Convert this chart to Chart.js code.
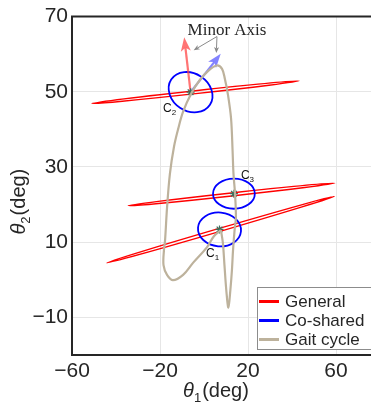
<!DOCTYPE html>
<html>
<head>
<meta charset="utf-8">
<script src="https://cdn.jsdelivr.net/npm/chart.js@4.4.0/dist/chart.umd.min.js"></script>
<style>
    html, body { margin: 0; padding: 0; background: #fff; overflow: hidden; }
    #wrap { width: 400px; height: 409px; }
</style>
</head>
<body>
<div id="wrap"><canvas id="grafico" width="400" height="409"></canvas></div>
<script>
// ticks de los ejes
const ticksTheta1 = [-60, -20, 20, 60];
const ticksTheta2 = [-10, 10, 30, 50, 70];

// ciclo de marcha (Gait cycle)
const gaitTheta1 = [7.7, 4.5, 1.4, -5.0, -9.5, -14.1, -16.8, -18.4, -18.2, -17.7, -16.8, -15.5, -13.6, -11.8, -9.5, -5.7, -1.8, 1.8, 5.8, 8.2, 9.5, 10.9, 12.3, 13.0, 13.4, 14.1, 14.5, 13.9, 13.2, 12.7, 12.0, 11.1, 10.2, 9.3, 8.6, 7.7];
const gaitTheta2 = [13.2, 11.6, 8.7, 4.5, 1.3, -0.1, 1.3, 3.9, 7.9, 10.5, 19.2, 28.2, 35.5, 40.0, 44.7, 49.7, 53.2, 55.5, 57.0, 56.1, 53.4, 49.2, 42.9, 34.2, 28.2, 22.9, 16.6, 13.2, 7.9, 2.6, -2.6, -7.4, -3.2, 3.9, 9.7, 13.2];

// centros C1, C2, C3
const centrosNombre = ['1', '2', '3'];
const centrosTheta1 = [7.05, -6.1, 13.6];
const centrosTheta2 = [13.4, 49.9, 22.9];

// General: elipses muy finas, extremos del eje mayor
const generalIniTheta1 = [-44.2, -51.0, -34.5];
const generalIniTheta2 = [4.5, 46.9, 19.7];
const generalFinTheta1 = [59.2, 43.3, 59.5];
const generalFinTheta2 = [22.2, 52.9, 25.7];
const generalSemiMenor = [0.4, 0.4, 0.4];

// Co-shared: elipses alrededor de cada centro
const cosharedSemiTheta1 = [9.8, 10.5, 9.5];
const cosharedSemiTheta2 = [4.5, 5.0, 4.0];
const cosharedGiro = [5, 33, 0];

// ejes menores en C2 (punta de cada flecha)
const ejeMenorRojo = [-9.0, 64.5];
const ejeMenorAzul = [7.6, 60.1];

// anotacion "Minor Axis"
const notaTexto = 'Minor Axis';
const notaPos = [10.45, 65.2];
const notaOrigen = [5.9, 64.7];
const notaDestinos = [[-4.7, 61.05], [5.6, 60.3]];

const leyendaNombres = ['General', 'Co-shared', 'Gait cycle'];
const leyendaColores = ['#ff0000', '#0000ff', '#bdb29c'];

const colorTexto = '#262626';
const fuente = '"Liberation Sans", Arial, sans-serif';

function formatoTick(v) {
    return v < 0 ? '\u2212' + Math.abs(v) : String(v);
}

function flecha(ctx, x0, y0, x1, y1, color, ancho, largo, mitad) {
    const ang = Math.atan2(y1 - y0, x1 - x0);
    const ux = Math.cos(ang), uy = Math.sin(ang);
    const nx = x1 - ux * largo * 0.75, ny = y1 - uy * largo * 0.75;
    ctx.strokeStyle = color;
    ctx.fillStyle = color;
    ctx.lineWidth = ancho;
    ctx.beginPath();
    ctx.moveTo(x0, y0);
    ctx.lineTo(nx, ny);
    ctx.stroke();
    const bx = x1 - ux * largo, by = y1 - uy * largo;
    ctx.beginPath();
    ctx.moveTo(x1, y1);
    ctx.lineTo(bx - uy * mitad, by + ux * mitad);
    ctx.lineTo(nx, ny);
    ctx.lineTo(bx + uy * mitad, by - ux * mitad);
    ctx.closePath();
    ctx.fill();
}

function textoTheta(ctx, cx, base, sub) {
    const fTheta = 'italic 20px ' + fuente;
    const fSub = '13px ' + fuente;
    const fResto = '20px ' + fuente;
    ctx.font = fTheta; const w1 = ctx.measureText('\u03b8').width;
    ctx.font = fSub; const w2 = ctx.measureText(sub).width;
    ctx.font = fResto; const w3 = ctx.measureText('(deg)').width;
    let x = cx - (w1 + w2 + w3 + 1) / 2;
    ctx.fillStyle = colorTexto;
    ctx.textAlign = 'left';
    ctx.textBaseline = 'alphabetic';
    ctx.font = fTheta; ctx.fillText('\u03b8', x, base); x += w1;
    ctx.font = fSub; ctx.fillText(sub, x, base + 5); x += w2 + 1;
    ctx.font = fResto; ctx.fillText('(deg)', x, base);
}

const extras = {
    id: 'extras',
    beforeDatasetDraw(chart, args) {
        if (args.index !== 1) return;
        const ctx = chart.ctx;
        const sx = chart.scales.x, sy = chart.scales.y;
        ctx.save();
        // General
        for (let i = 0; i < generalIniTheta1.length; i++) {
            const x0 = sx.getPixelForValue(generalIniTheta1[i]);
            const y0 = sy.getPixelForValue(generalIniTheta2[i]);
            const x1 = sx.getPixelForValue(generalFinTheta1[i]);
            const y1 = sy.getPixelForValue(generalFinTheta2[i]);
            const rMenor = Math.abs(sy.getPixelForValue(0) - sy.getPixelForValue(generalSemiMenor[i]));
            ctx.beginPath();
            ctx.ellipse((x0 + x1) / 2, (y0 + y1) / 2, Math.hypot(x1 - x0, y1 - y0) / 2, rMenor, Math.atan2(y1 - y0, x1 - x0), 0, Math.PI * 2);
            ctx.strokeStyle = '#ff0000';
            ctx.lineWidth = 1.4;
            ctx.stroke();
        }
        // Co-shared
        for (let i = 0; i < centrosTheta1.length; i++) {
            const cx = sx.getPixelForValue(centrosTheta1[i]);
            const cy = sy.getPixelForValue(centrosTheta2[i]);
            const rx = Math.abs(sx.getPixelForValue(centrosTheta1[i] + cosharedSemiTheta1[i]) - cx);
            const ry = Math.abs(sy.getPixelForValue(centrosTheta2[i] + cosharedSemiTheta2[i]) - cy);
            ctx.beginPath();
            ctx.ellipse(cx, cy, rx, ry, cosharedGiro[i] * Math.PI / 180, 0, Math.PI * 2);
            ctx.strokeStyle = '#0000ff';
            ctx.lineWidth = 1.8;
            ctx.stroke();
        }
        // ejes menores en C2
        const c2x = sx.getPixelForValue(centrosTheta1[1]);
        const c2y = sy.getPixelForValue(centrosTheta2[1]);
        flecha(ctx, c2x, c2y, sx.getPixelForValue(ejeMenorRojo[0]), sy.getPixelForValue(ejeMenorRojo[1]), 'rgba(255,70,70,0.75)', 2.2, 14, 5);
        flecha(ctx, c2x, c2y, sx.getPixelForValue(ejeMenorAzul[0]), sy.getPixelForValue(ejeMenorAzul[1]), 'rgba(90,90,255,0.75)', 2.2, 14, 5);
        // anotacion
        const ox = sx.getPixelForValue(notaOrigen[0]), oy = sy.getPixelForValue(notaOrigen[1]);
        notaDestinos.forEach(d => {
            flecha(ctx, ox, oy, sx.getPixelForValue(d[0]), sy.getPixelForValue(d[1]), '#8a8a8a', 1, 6, 2.5);
        });
        ctx.font = '17px "Liberation Serif", "Times New Roman", serif';
        ctx.fillStyle = colorTexto;
        ctx.textAlign = 'center';
        ctx.textBaseline = 'alphabetic';
        ctx.fillText(notaTexto, sx.getPixelForValue(notaPos[0]), sy.getPixelForValue(notaPos[1]));
        ctx.restore();
    },
    afterDraw(chart) {
        const ctx = chart.ctx;
        const a = chart.chartArea;
        const sx = chart.scales.x, sy = chart.scales.y;
        ctx.save();
        // borde superior
        ctx.strokeStyle = colorTexto;
        ctx.lineWidth = 2;
        ctx.beginPath();
        ctx.moveTo(a.left - 1, a.top);
        ctx.lineTo(a.right, a.top);
        ctx.stroke();

        // etiquetas C1, C2, C3
        const desp = [[-13.5, 27.7], [-27.5, 19.5], [7, -15]];
        for (let i = 0; i < centrosTheta1.length; i++) {
            const x = sx.getPixelForValue(centrosTheta1[i]) + desp[i][0];
            const y = sy.getPixelForValue(centrosTheta2[i]) + desp[i][1];
            ctx.fillStyle = '#111';
            ctx.textAlign = 'left';
            ctx.textBaseline = 'alphabetic';
            ctx.font = '12px ' + fuente;
            ctx.fillText('C', x, y);
            const w = ctx.measureText('C').width;
            ctx.font = '8px ' + fuente;
            ctx.fillText(centrosNombre[i], x + w, y + 3);
        }

        // titulos de los ejes
        textoTheta(ctx, a.left + 144, 397, '1');
        ctx.save();
        ctx.translate(25, a.top + 185);
        ctx.rotate(-Math.PI / 2);
        textoTheta(ctx, 0, 0, '2');
        ctx.restore();

        // leyenda
        const lx = a.left + 185, ly = a.bottom - 68;
        ctx.fillStyle = '#fff';
        ctx.fillRect(lx, ly, 200, 62);
        ctx.strokeStyle = '#8c8c8c';
        ctx.lineWidth = 1;
        ctx.strokeRect(lx + 0.5, ly + 0.5, 200, 62);
        leyendaNombres.forEach((nombre, i) => {
            const y = ly + 14.5 + i * 19;
            ctx.strokeStyle = leyendaColores[i];
            ctx.lineWidth = 3;
            ctx.beginPath();
            ctx.moveTo(lx + 2, y);
            ctx.lineTo(lx + 22, y);
            ctx.stroke();
            ctx.fillStyle = colorTexto;
            ctx.font = '17px ' + fuente;
            ctx.textAlign = 'left';
            ctx.textBaseline = 'middle';
            ctx.fillText(nombre, lx + 28, y + 1);
        });
        ctx.restore();
    }
};

const ejeComun = {
    type: 'linear',
    grid: { color: '#e6e6e6', lineWidth: 1, drawTicks: false },
    border: { color: colorTexto, width: 2 },
    ticks: {
        color: colorTexto,
        font: { family: fuente, size: 21 },
        callback: v => formatoTick(v)
    }
};

new Chart(document.getElementById('grafico'), {
    type: 'scatter',
    data: {
        datasets: [
            {
                label: 'Gait cycle',
                data: gaitTheta1.map((x, i) => ({ x: x, y: gaitTheta2[i] })),
                showLine: true,
                borderColor: '#bdb29c',
                borderWidth: 2.2,
                pointRadius: 0,
                tension: 0.35,
                fill: false
            },
            {
                label: 'Centros',
                data: centrosTheta1.map((x, i) => ({ x: x, y: centrosTheta2[i] })),
                pointStyle: 'star',
                pointRadius: 4,
                borderColor: '#3b6e5a',
                backgroundColor: '#3b6e5a',
                borderWidth: 1.2
            }
        ]
    },
    options: {
        responsive: false,
        animation: false,
        devicePixelRatio: 1,
        layout: { padding: { top: 14, right: 20, left: 0, bottom: 0 } },
        plugins: { legend: { display: false }, tooltip: { enabled: false } },
        scales: {
            x: Object.assign({}, ejeComun, {
                min: -60, max: 80,
                afterBuildTicks: ax => { ax.ticks = ticksTheta1.map(v => ({ value: v })); },
                afterFit: ax => { ax.height = 54; },
                ticks: Object.assign({}, ejeComun.ticks, { padding: 4, maxRotation: 0 })
            }),
            y: Object.assign({}, ejeComun, {
                min: -20, max: 70,
                afterBuildTicks: ax => { ax.ticks = ticksTheta2.map(v => ({ value: v })); },
                afterFit: ax => { ax.width = 72; },
                ticks: Object.assign({}, ejeComun.ticks, { padding: 4 })
            })
        }
    },
    plugins: [extras]
});
</script>
</body>
</html>
